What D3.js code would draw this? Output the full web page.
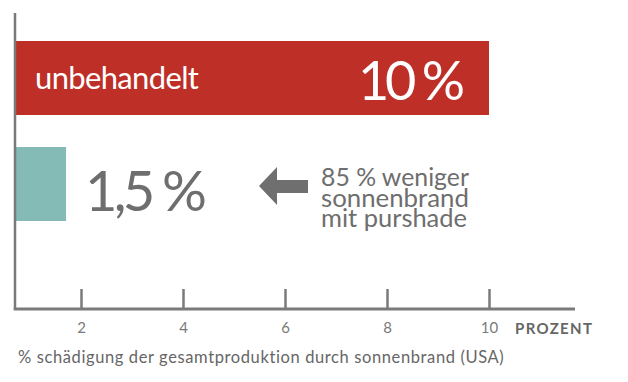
<!DOCTYPE html>
<html>
<head>
<meta charset="utf-8">
<script src="https://cdn.jsdelivr.net/npm/d3@7"></script>
<style>
  html, body { margin: 0; padding: 0; background: #fff; }
  svg { display: block; }
  text { font-family: Lato, "Open Sans", sans-serif; }
</style>
</head>
<body>
<svg id="chart" width="628" height="382"></svg>
<script>
// ---- data ----
const categories = ["unbehandelt", "mit purshade"];
const values = [10, 1.5];
const valueLabels = ["10 %", "1,5 %"];
const tickValues = [2, 4, 6, 8, 10];
const tickLabels = ["2", "4", "6", "8", "10"];
const unitLabel = "PROZENT";
const noteLines = ["85 % weniger", "sonnenbrand", "mit purshade"];
const caption = "% schädigung der gesamtproduktion durch sonnenbrand (USA)";

// ---- layout ----
const svg = d3.select("#chart");
const axisX0 = 15, axisY = 309, axisX1 = 575, axisTop = 13;
const red = "#bd2f27", teal = "#84bbb6", grey = "#6e6e6e", axisGrey = "#7a7a7a";

// scale used for bars
const xBar = d3.scaleLinear().domain([0, 10]).range([-8.6, 489]);
// scale used for the axis ticks
const xAxis = d3.scaleLinear().domain([0, 10]).range([-21, 489]);
const y = d3.scaleBand().domain(categories).range([41, 221]).paddingInner(0.302).paddingOuter(0);

// set font size, then letter-spacing so the text spans a target width
function fit(sel, size, target, anchorEnd) {
  sel.style("font-size", size + "px").style("letter-spacing", "0px");
  const n = sel.text().length;
  const w = sel.node().getComputedTextLength();
  const ls = (target - w) / (n - 1);
  sel.style("letter-spacing", ls + "px");
  if (anchorEnd) sel.attr("x", +sel.attr("x") + ls);
  return sel;
}
// scale font size so the text spans a target width
function fitSize(sel, target) {
  sel.style("font-size", "100px");
  const w = sel.node().getComputedTextLength();
  sel.style("font-size", (100 * target / w) + "px");
  return sel;
}

// bars
svg.selectAll("rect.bar").data(categories).enter().append("rect")
  .attr("class", "bar")
  .attr("x", axisX0)
  .attr("y", d => y(d))
  .attr("width", (d, i) => xBar(values[i]) - axisX0)
  .attr("height", y.bandwidth())
  .attr("fill", (d, i) => i === 0 ? red : teal);

// y axis line
svg.append("line").attr("x1", axisX0).attr("x2", axisX0)
  .attr("y1", axisTop).attr("y2", axisY + 1)
  .attr("stroke", axisGrey).attr("stroke-width", 2.5);

// x axis
const xAxisGen = d3.axisBottom(xAxis).tickValues(tickValues)
  .tickFormat((d, i) => tickLabels[i]).tickSize(-20).tickPadding(0).tickSizeOuter(0);
const gx = svg.append("g").attr("transform", `translate(0,${axisY})`).call(xAxisGen);
gx.select(".domain").remove();
gx.append("line").attr("x1", axisX0 - 1.25).attr("x2", axisX1).attr("y1", 0).attr("y2", 0)
  .attr("stroke", axisGrey).attr("stroke-width", 3);
gx.selectAll(".tick line").attr("stroke", axisGrey).attr("stroke-width", 2.5);
gx.selectAll(".tick text")
  .attr("fill", "#7a7a7a").attr("y", 0).attr("dy", "24px")
  .style("font-size", "15px").style("font-family", "Lato, sans-serif");

// unit label
fit(svg.append("text").attr("x", 515).attr("y", 334)
  .attr("fill", "#666").style("font-weight", "bold")
  .text(unitLabel), 15, 77);

// category label inside red bar
fit(svg.append("text").attr("x", 35).attr("y", 89).attr("fill", "#fff")
  .text(categories[0]), 31, 164);

// value labels
fit(svg.append("text").attr("x", 465).attr("y", 100).attr("fill", "#fff")
  .attr("text-anchor", "end").text(valueLabels[0]), 54, 107, true);
fit(svg.append("text").attr("x", 85).attr("y", 211).attr("fill", grey)
  .text(valueLabels[1]), 56, 122);

// arrow
const arrow = d3.path();
arrow.moveTo(259, 186);
arrow.lineTo(277, 167);
arrow.lineTo(277, 180);
arrow.lineTo(308, 180);
arrow.lineTo(308, 193);
arrow.lineTo(277, 193);
arrow.lineTo(277, 205);
arrow.closePath();
svg.append("path").attr("d", arrow.toString()).attr("fill", "#6f6f6f");

// note
const noteBaselines = [186, 207, 227];
const noteWidths = [148, 148, 146];
noteLines.forEach((t, i) => {
  fitSize(svg.append("text").attr("x", 321).attr("y", noteBaselines[i]).attr("fill", grey).text(t), noteWidths[i]);
});

// caption
fit(svg.append("text").attr("x", 18).attr("y", 363).attr("fill", "#666").text(caption), 16.5, 486);
</script>
</body>
</html>
